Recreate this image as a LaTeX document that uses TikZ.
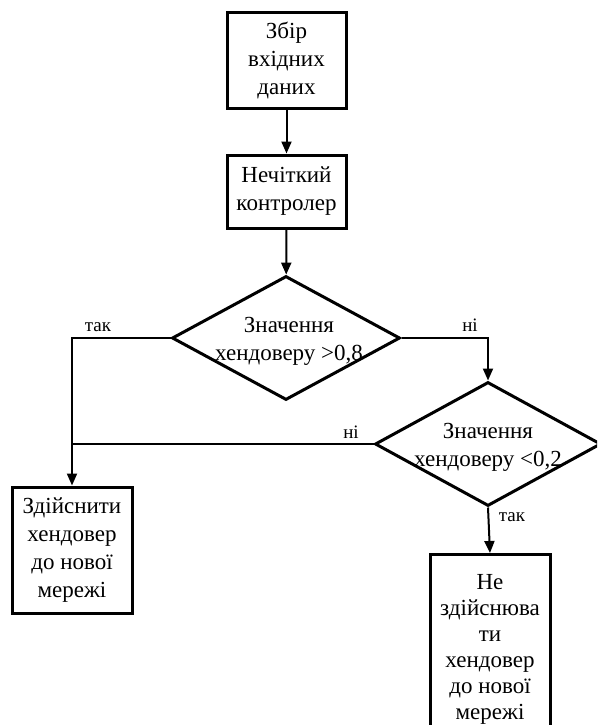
\documentclass[tikz,border=0pt]{standalone}
\usepackage{fontspec}
\setmainfont{Liberation Serif}
\usetikzlibrary{shapes.geometric,arrows.meta}
\begin{document}
\begin{tikzpicture}[x=1pt,y=-1pt,
  box/.style={draw,line width=3pt,inner sep=0pt,align=center,
    font=\fontsize{23}{28}\selectfont},
  dec/.style={draw,diamond,line width=3pt,inner sep=0pt,aspect=1.84},
  dtext/.style={align=center,font=\fontsize{23}{28}\selectfont},
  conn/.style={line width=2pt,-{Triangle[width=10pt,length=12pt]}},
  line/.style={line width=1.5pt},
  lbl/.style={font=\fontsize{19}{22}\selectfont,inner sep=0pt}]
\useasboundingbox (0,0) rectangle (597,725);
\begin{scope}
\clip (0,0) rectangle (597,725);
\node[box,minimum width=119pt,minimum height=95pt] (b1) at (286.5,60.5) {Збір\\вхідних\\даних};
\node[box,minimum width=119pt,minimum height=73pt] (b2) at (286.5,191.5) {Нечіткий\\контролер};
\node[dec,minimum width=228pt,minimum height=124pt] (d1) at (286,338) {};
\node[dtext] (t1) at (289,341) {Значення\\хендоверу >0,8};
\node[dec,minimum width=226pt,minimum height=124pt] (d2) at (488,444) {};
\node[dtext] (t2) at (488,447) {Значення\\хендоверу <0,2};
\node[box,minimum width=120pt,minimum height=190pt,anchor=north,inner ysep=6pt,
  font=\fontsize{23}{26}\selectfont] (b4) at (490,553) {Не\\здійснюва\\ти\\хендовер\\до нової\\мережі};
\node[box,minimum width=120pt,minimum height=126pt] (b3) at (72,550) {Здійснити\\хендовер\\до нової\\мережі};
\draw[conn] (b1) -- (b2);
\draw[conn] (b2) -- (d1);
\draw[conn] (d1.west) -| (b3.north);
\draw[conn] (d1.east) -| (d2.north);
\draw[line] (d2.west) -- (d2.west -| b3.north);
\draw[conn] (d2.south) -- (b4.north);
\node[lbl] (l1) at (98,327) {так};
\node[lbl] (l2) at (470,325) {ні};
\node[lbl] (l3) at (351,432) {ні};
\node[lbl] (l4) at (512,517) {так};
\end{scope}
\end{tikzpicture}
\end{document}
